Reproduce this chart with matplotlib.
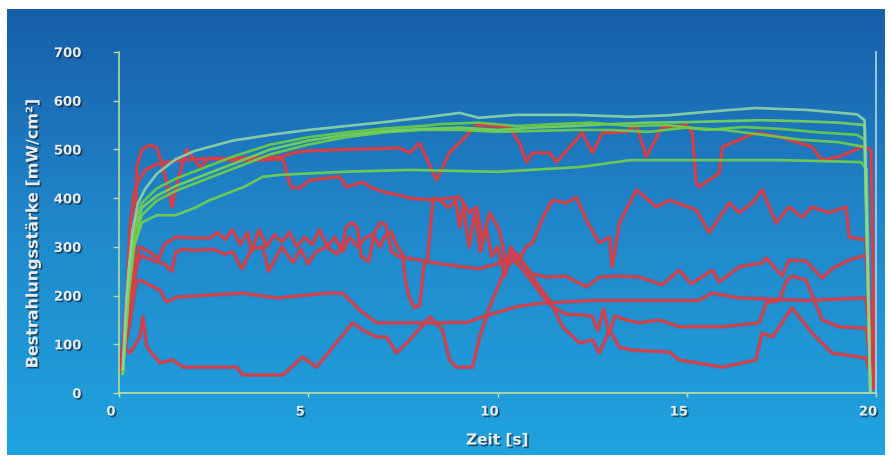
import numpy as np
import matplotlib.pyplot as plt
import matplotlib.patheffects as pe
from matplotlib.colors import LinearSegmentedColormap
from matplotlib.transforms import ScaledTranslation

# red curves (time [s], irradiance [mW/cm2])
red_a_t = [0.05, 0.25, 0.42, 0.47, 0.6, 0.82, 1.0, 1.16, 1.4, 1.53, 1.79, 2.06, 2.14, 2.4, 3.0, 3.6, 4.33, 4.46, 4.56, 4.78,
           5.04, 5.83, 6.0, 6.44, 6.68, 7.07, 7.41, 7.68, 8.28, 9.0, 9.26, 9.45, 9.6, 9.79, 10.05, 10.24, 10.4, 10.6, 10.9,
           11.2, 11.5, 11.8, 12.2, 12.5, 12.65, 12.8, 12.95, 13.1, 13.4, 13.75, 14.27, 14.8, 15.94, 16.91, 17.1, 17.44,
           17.63, 17.78, 18.15, 18.58, 19.02, 19.74, 19.95]
red_a_v = [60, 150, 294, 464, 500, 509, 503, 464, 382, 431, 500, 472, 464, 482, 478, 478, 480, 444, 421, 421,
           437, 444, 423, 433, 421, 411, 406, 400, 396, 402, 370, 382, 314, 370, 335, 259, 273, 260, 230,
           198, 175, 162, 160, 158, 128, 172, 122, 158, 150, 144, 150, 136, 136, 144, 185, 190,
           230, 240, 232, 150, 136, 133, 10]

red_b_t = [0.08, 0.2, 0.3, 0.4, 0.5, 0.7, 1.0, 1.5, 2.0, 3.0, 4.0, 4.3, 4.6, 5.0, 6.0, 7.0, 7.41, 7.68, 7.94, 8.39,
           8.73, 9.08, 9.45, 10.32, 10.58, 10.77, 10.92, 11.37, 11.56, 12.24, 12.51, 12.77, 13.4, 13.67, 13.93, 14.35,
           14.62, 14.99, 15.15, 15.25, 15.33, 15.86, 15.94, 16.83, 17.44, 18.31, 18.58, 19.02, 19.63, 19.87, 19.97]
red_b_v = [70, 200, 350, 410, 435, 458, 470, 477, 480, 482, 483, 485, 493, 497, 500, 502, 503, 493, 513, 437,
           493, 520, 550, 546, 513, 474, 493, 493, 474, 534, 493, 534, 536, 550, 485, 546,
           546, 550, 534, 431, 423, 452, 505, 534, 526, 505, 478, 485, 505, 500, 20]

red_c_t = [0.05, 0.3, 0.45, 0.55, 0.8, 1.05, 1.2, 1.5, 2.0, 2.4, 2.6, 2.8, 3.0, 3.2, 3.4, 3.5, 3.7, 3.9, 4.1, 4.3,
           4.5, 4.7, 4.9, 5.1, 5.3, 5.5, 5.7, 5.9, 6.1, 6.3, 6.5, 6.7, 6.9, 7.0, 7.2, 7.35, 7.5, 7.55, 7.65, 7.8,
           7.95, 8.05, 8.15, 8.3, 8.5, 8.7, 8.9, 9.0, 9.1, 9.25, 9.4, 9.55, 9.7, 9.85, 10.0, 10.2, 10.35, 10.55,
           10.75, 10.92, 11.2, 11.45, 11.82, 12.08, 12.35, 12.69, 12.96, 13.03, 13.22, 13.67, 14.2, 14.54, 15.25,
           15.59, 16.12, 16.39, 16.73, 16.99, 17.36, 17.7, 18.05, 18.31, 18.76, 19.21, 19.29, 19.74, 19.95]
red_c_v = [55, 150, 260, 300, 290, 275, 305, 320, 318, 318, 330, 315, 335, 305, 330, 290, 335, 300, 325, 310,
           330, 300, 320, 305, 335, 300, 320, 290, 320, 300, 318, 325, 300, 320, 330, 300, 285, 240, 200, 175,
           180, 260, 275, 400, 395, 380, 395, 340, 385, 300, 370, 290, 340, 280, 300, 240, 300, 270,
           300, 308, 360, 396, 390, 402, 355, 308, 320, 259, 349, 417, 382, 396, 376,
           329, 390, 370, 390, 417, 349, 382, 361, 382, 370, 382, 320, 314, 15]

red_d_t = [0.05, 0.3, 0.5, 0.6, 0.9, 1.2, 1.4, 1.5, 1.7, 2.0, 2.5, 2.8, 3.0, 3.25, 3.5, 3.8, 3.95, 4.3, 4.6, 4.8,
           5.0, 5.2, 5.5, 5.75, 5.9, 6.0, 6.15, 6.3, 6.4, 6.6, 6.75, 6.9, 7.05, 7.2, 7.4, 8.0, 8.5, 9.0, 9.5, 10.0,
           10.4, 10.6, 10.9, 11.3, 11.8, 12.35, 12.7, 13.2, 13.75, 14.35, 14.8, 15.12, 15.67, 15.86, 16.39, 16.99,
           17.1, 17.52, 17.7, 18.15, 18.58, 18.84, 19.29, 19.74, 19.95]
red_d_v = [50, 200, 270, 282, 272, 265, 250, 290, 295, 293, 295, 285, 290, 255, 295, 300, 250, 300, 268, 295,
           265, 290, 300, 285, 300, 340, 350, 340, 280, 270, 330, 350, 345, 290, 280, 272, 265, 260, 255, 265,
           285, 275, 245, 238, 240, 218, 238, 240, 238, 222, 252, 224, 252, 228, 259, 267,
           277, 240, 273, 271, 236, 255, 273, 283, 20]

red_e_t = [0.05, 0.3, 0.45, 0.55, 1.08, 1.26, 1.53, 2.4, 3.27, 4.17, 5.49, 5.91, 6.36, 6.8, 7.68, 8.5, 9.2, 9.6,
           10.1, 10.5, 11.0, 11.37, 12.5, 13.75, 15.33, 15.67, 16.39, 18.15, 19.74, 19.95]
red_e_v = [45, 160, 225, 232, 211, 187, 197, 201, 205, 195, 205, 205, 170, 144, 144, 144, 145, 156,
           168, 177, 183, 185, 190, 190, 190, 205, 195, 190, 195, 15]

red_g_t = [0.05, 0.1, 0.29, 0.55, 0.63, 0.74, 1.08, 1.42, 1.69, 3.11, 3.27, 4.33, 4.85, 5.22, 6.17, 6.44, 6.8, 7.07,
           7.33, 7.68, 8.21, 8.55, 8.73, 8.92, 9.34, 9.53, 9.79, 10.24, 10.5, 10.92, 11.37, 11.72, 12.16, 12.51,
           12.69, 12.96, 13.22, 13.56, 14.54, 14.8, 15.94, 16.83, 16.99, 17.26, 17.78, 18.31, 18.84, 19.74, 19.95]
red_g_v = [70, 94, 82, 115, 156, 94, 62, 68, 53, 53, 37, 37, 74, 53, 144, 129, 115, 115,
           82, 109, 156, 129, 68, 53, 53, 115, 177, 259, 287, 238, 191, 136, 103, 109,
           82, 129, 94, 88, 84, 68, 53, 68, 123, 115, 175, 123, 82, 72, 10]

# green curves
green_1_t = [0.1, 0.25, 0.4, 0.6, 1.0, 1.5, 2.0, 2.4, 3.3, 3.8, 4.3, 5.9, 7.7, 10.0, 12.2, 13.5, 15.3, 17.5, 19.6, 19.75, 19.85]
green_1_v = [40, 200, 300, 350, 365, 365, 380, 396, 423, 444, 448, 454, 458, 454, 464, 478, 478, 478, 474, 460, 0]

green_2_t = [0.1, 0.2, 0.35, 0.5, 0.7, 1.0, 1.5, 2.0, 3.0, 4.0, 5.0, 6.0, 7.0, 8.0, 9.0, 9.5, 10.5, 12.0, 13.5, 14.5,
             15.5, 16.8, 18.2, 19.5, 19.7, 19.85]
green_2_v = [50, 200, 330, 390, 420, 450, 480, 497, 518, 530, 540, 548, 556, 565, 575, 565, 571, 571, 567, 570,
             577, 585, 581, 572, 560, 0]

green_3_t = [0.1, 0.25, 0.4, 0.6, 1.0, 1.5, 2.0, 3.0, 4.0, 5.0, 6.0, 7.0, 8.0, 8.5, 9.5, 10.5, 11.5, 12.5, 13.5, 14.5,
             15.5, 16.5, 17.5, 18.5, 19.5, 19.7, 19.85]
green_3_v = [40, 250, 340, 390, 420, 440, 455, 485, 510, 525, 535, 543, 548, 552, 555, 548, 552, 555, 548, 550,
             540, 546, 542, 535, 530, 520, 0]

green_4_t = [0.1, 0.25, 0.4, 0.6, 1.0, 1.5, 2.0, 3.0, 4.0, 5.0, 6.0, 7.0, 8.0, 9.0, 10.0, 11.0, 12.0, 13.0, 14.0, 15.0,
             16.0, 17.0, 18.0, 19.0, 19.7, 19.85]
green_4_v = [40, 230, 330, 380, 405, 425, 440, 470, 500, 518, 530, 538, 542, 545, 540, 545, 548, 552, 555, 556,
             558, 560, 558, 555, 550, 0]

green_5_t = [0.1, 0.25, 0.4, 0.6, 1.0, 1.5, 2.0, 3.0, 4.0, 5.0, 6.0, 7.0, 8.0, 9.0, 10.0, 11.0, 12.0, 13.0, 14.0, 15.0,
             16.0, 17.0, 18.0, 19.0, 19.7, 19.85]
green_5_v = [40, 200, 310, 365, 395, 415, 430, 460, 490, 510, 525, 535, 540, 540, 536, 538, 540, 540, 536, 545,
             540, 530, 520, 515, 505, 0]

x_ticks = [0, 5, 10, 15, 20]
y_ticks = [0, 100, 200, 300, 400, 500, 600, 700]

W, H = 891, 458
fig = plt.figure(figsize=(W / 100, H / 100), dpi=100)
fig.patch.set_facecolor('white')

# blue gradient background
bg = fig.add_axes([7 / W, 3 / H, 878 / W, 446 / H])
cmap = LinearSegmentedColormap.from_list('bg', ['#1fa3de', '#2189cc', '#175ea9'])
grad = np.linspace(0, 1, 256).reshape(-1, 1)
bg.imshow(grad, aspect='auto', cmap=cmap, origin='lower', extent=[0, 1, 0, 1])
bg.axis('off')

ax = fig.add_axes([119 / W, 65 / H, 757 / W, 341 / H])
ax.set_facecolor('none')

red = '#e03d40'
halo = [pe.Stroke(linewidth=3.4, foreground='#9a4a78', alpha=0.35), pe.Normal()]
for t, v in [(red_g_t, red_g_v), (red_e_t, red_e_v), (red_d_t, red_d_v), (red_c_t, red_c_v),
             (red_a_t, red_a_v), (red_b_t, red_b_v)]:
    ax.plot(t, v, color=red, lw=2.0, alpha=0.95, solid_joinstyle='round', path_effects=halo)

ax.plot(green_1_t, green_1_v, color='#72d24c', lw=1.9, alpha=0.9)
ax.plot(green_5_t, green_5_v, color='#6fd048', lw=1.9, alpha=0.9)
ax.plot(green_4_t, green_4_v, color='#78d45a', lw=1.9, alpha=0.9)
ax.plot(green_3_t, green_3_v, color='#6ccf45', lw=1.9, alpha=0.9)
ax.plot(green_2_t, green_2_v, color='#8fd4a4', lw=1.9, alpha=0.9)

ax.set_xlim(0, 20)
ax.set_ylim(0, 700)
ax.set_xticks(x_ticks)
ax.set_yticks(y_ticks)

ax.spines['top'].set_visible(False)
ax.spines['left'].set_color('#b8d9a0')
ax.spines['bottom'].set_color('#c4dfa0')
ax.spines['right'].set_color('#b9d2e2')
for s in ['left', 'bottom', 'right']:
    ax.spines[s].set_linewidth(1.2)

ax.tick_params(axis='y', length=4, width=1, color='#b8d9a0', pad=23, labelsize=9.5, labelcolor='#e6edf2')
ax.tick_params(axis='x', length=3, width=1, color='#c4dfa0', pad=6, labelsize=9.5, labelcolor='#e6edf2')

shadow = [pe.SimplePatchShadow(offset=(1.2, -1.2), shadow_rgbFace='#1a2a3a', alpha=0.7), pe.Normal()]
for lab in ax.get_xticklabels():
    lab.set_fontweight('bold')
    lab.set_path_effects(shadow)
    lab.set_transform(lab.get_transform() + ScaledTranslation(-8 / 100, 0, fig.dpi_scale_trans))
for lab in ax.get_yticklabels():
    lab.set_fontweight('bold')
    lab.set_path_effects(shadow)

fig.text(33 / W, 1 - 233 / H, 'Bestrahlungsstärke [mW/cm²]', rotation=90, ha='center', va='center',
         fontsize=11.5, fontweight='bold', color='#e6edf2', path_effects=shadow)
fig.text(497 / W, 1 - 440 / H, 'Zeit [s]', ha='center', va='center',
         fontsize=11, fontweight='bold', color='#e6edf2', path_effects=shadow)

fig.savefig('out.png', dpi=100)
